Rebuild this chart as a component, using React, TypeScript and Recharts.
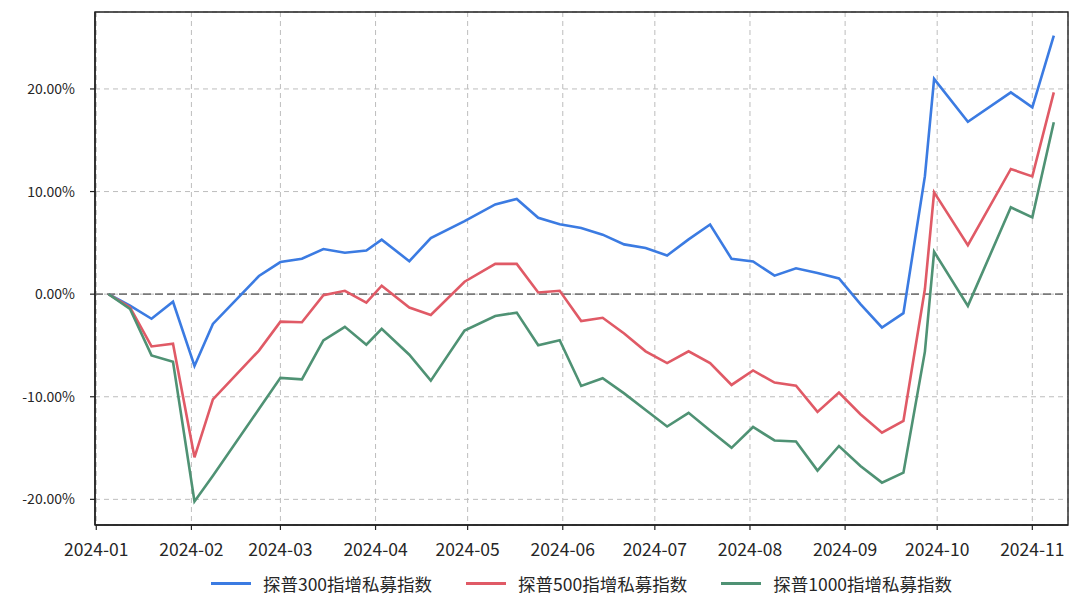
import React from "react";
import { LineChart, Line, XAxis, YAxis, CartesianGrid, ReferenceLine, ReferenceArea } from "recharts";

const dates = [
  "2024-01-05", "2024-01-12", "2024-01-19", "2024-01-26", "2024-02-02", "2024-02-08", "2024-02-23",
  "2024-03-01", "2024-03-08", "2024-03-15", "2024-03-22", "2024-03-29", "2024-04-03", "2024-04-12",
  "2024-04-19", "2024-04-30", "2024-05-10", "2024-05-17", "2024-05-24", "2024-05-31", "2024-06-07",
  "2024-06-14", "2024-06-21", "2024-06-28", "2024-07-05", "2024-07-12", "2024-07-19", "2024-07-26",
  "2024-08-02", "2024-08-09", "2024-08-16", "2024-08-23", "2024-08-30", "2024-09-06", "2024-09-13",
  "2024-09-20", "2024-09-27", "2024-09-30", "2024-10-11", "2024-10-25", "2024-11-01", "2024-11-08",
];

const idx300 = [
  0, -1.13, -2.4, -0.74, -7.0, -2.9, 1.77, 3.13, 3.45, 4.4, 4.03, 4.26, 5.31, 3.21, 5.47, 7.11, 8.75,
  9.28, 7.44, 6.82, 6.45, 5.8, 4.85, 4.49, 3.77, 5.34, 6.79, 3.44, 3.18, 1.8, 2.52, 2.07, 1.53, -0.98,
  -3.25, -1.85, 11.5, 20.98, 16.8, 19.67, 18.2, 25.2,
];

const idx500 = [
  0, -1.3, -5.1, -4.84, -15.9, -10.26, -5.5, -2.68, -2.74, -0.1, 0.33, -0.82, 0.82, -1.31, -2.03, 1.21,
  2.95, 2.95, 0.16, 0.33, -2.62, -2.3, -3.84, -5.57, -6.72, -5.57, -6.72, -8.85, -7.44, -8.62, -8.92,
  -11.48, -9.6, -11.7, -13.5, -12.36, 0.5, 9.92, 4.78, 12.2, 11.48, 19.67,
];

const idx1000 = [
  0, -1.45, -5.97, -6.6, -20.2, -17.7, -11.2, -8.16, -8.3, -4.5, -3.18, -4.92, -3.38, -5.9, -8.43,
  -3.54, -2.13, -1.8, -4.98, -4.5, -8.95, -8.2, -9.67, -11.3, -12.9, -11.57, -13.28, -14.98, -12.95,
  -14.26, -14.36, -17.2, -14.8, -16.75, -18.37, -17.4, -5.6, 4.13, -1.14, 8.46, 7.48, 16.75,
];

const monthTicks = [
  "2024-01-01", "2024-02-01", "2024-03-01", "2024-04-01", "2024-05-01", "2024-06-01",
  "2024-07-01", "2024-08-01", "2024-09-01", "2024-10-01", "2024-11-01",
];

const yTicks = [-20, -10, 0, 10, 20];

const seriesNames = ["探普300指增私募指数", "探普500指增私募指数", "探普1000指增私募指数"];
const seriesColors = ["#3b7be2", "#e05a66", "#4f9274"];

const toTs = (s: string) => {
  const [y, m, d] = s.split("-").map(Number);
  return Date.UTC(y, m - 1, d);
};

const data = dates.map((d, i) => ({
  t: toTs(d),
  a: idx300[i],
  b: idx500[i],
  c: idx1000[i],
}));

const xTicks = monthTicks.map(toTs);
const xDomain = [Date.UTC(2023, 11, 31, 14), Date.UTC(2024, 10, 12, 15)];
const yDomain = [-22.5, 27.5];

const fmtMonth = (v: number) => {
  const d = new Date(v);
  return `${d.getUTCFullYear()}-${String(d.getUTCMonth() + 1).padStart(2, "0")}`;
};

const FONT = '"Noto Sans CJK SC", "Noto Sans", sans-serif';
const TXT = "#262626";
const AX = "#222";

export default function App() {
  return (
    <div style={{ position: "absolute", left: 0, top: 0, width: 1080, height: 605, background: "#fff", fontFamily: FONT }}>
      <LineChart width={1080} height={605} data={data} margin={{ top: 12, right: 12, left: 0, bottom: 0 }}>
        <CartesianGrid stroke="#bdbdbd" strokeDasharray="5 4" strokeWidth={1} />
        <XAxis
          dataKey="t"
          type="number"
          domain={xDomain}
          ticks={xTicks}
          tickFormatter={fmtMonth}
          allowDataOverflow
          height={80}
          tickSize={5}
          tickMargin={14}
          stroke={AX}
          axisLine={{ stroke: AX, strokeWidth: 1.4 }}
          tickLine={{ stroke: AX, strokeWidth: 1.2 }}
          tick={{ fill: TXT, fontSize: 17.5, fontFamily: FONT }}
        />
        <YAxis
          type="number"
          domain={yDomain}
          ticks={yTicks}
          allowDataOverflow
          width={95}
          tickSize={5}
          tickMargin={15}
          tickFormatter={(v: number) => `${v.toFixed(2)}%`}
          axisLine={{ stroke: AX, strokeWidth: 1.4 }}
          tickLine={{ stroke: AX, strokeWidth: 1.2 }}
          tick={{ fill: TXT, fontSize: 14, fontFamily: FONT }}
        />
        <ReferenceArea
          x1={xDomain[0]}
          x2={xDomain[1]}
          y1={yDomain[0]}
          y2={yDomain[1]}
          fill="none"
          fillOpacity={0}
          stroke={AX}
          strokeWidth={1.4}
          ifOverflow="visible"
        />
        <ReferenceLine y={0} stroke="#7a7a7a" strokeDasharray="8 4" strokeWidth={1.6} />
        <Line type="linear" dataKey="a" stroke={seriesColors[0]} strokeWidth={2.6} dot={false} isAnimationActive={false} />
        <Line type="linear" dataKey="b" stroke={seriesColors[1]} strokeWidth={2.6} dot={false} isAnimationActive={false} />
        <Line type="linear" dataKey="c" stroke={seriesColors[2]} strokeWidth={2.6} dot={false} isAnimationActive={false} />
      </LineChart>
      <div
        style={{
          position: "absolute",
          left: 95,
          width: 973,
          top: 571,
          display: "flex",
          justifyContent: "center",
          gap: 34,
          fontSize: 17.5,
          color: TXT,
        }}
      >
        {seriesNames.map((n, i) => (
          <div key={n} style={{ display: "flex", alignItems: "center" }}>
            <div style={{ width: 40, height: 3, background: seriesColors[i], marginRight: 12 }} />
            <span>{n}</span>
          </div>
        ))}
      </div>
    </div>
  );
}
